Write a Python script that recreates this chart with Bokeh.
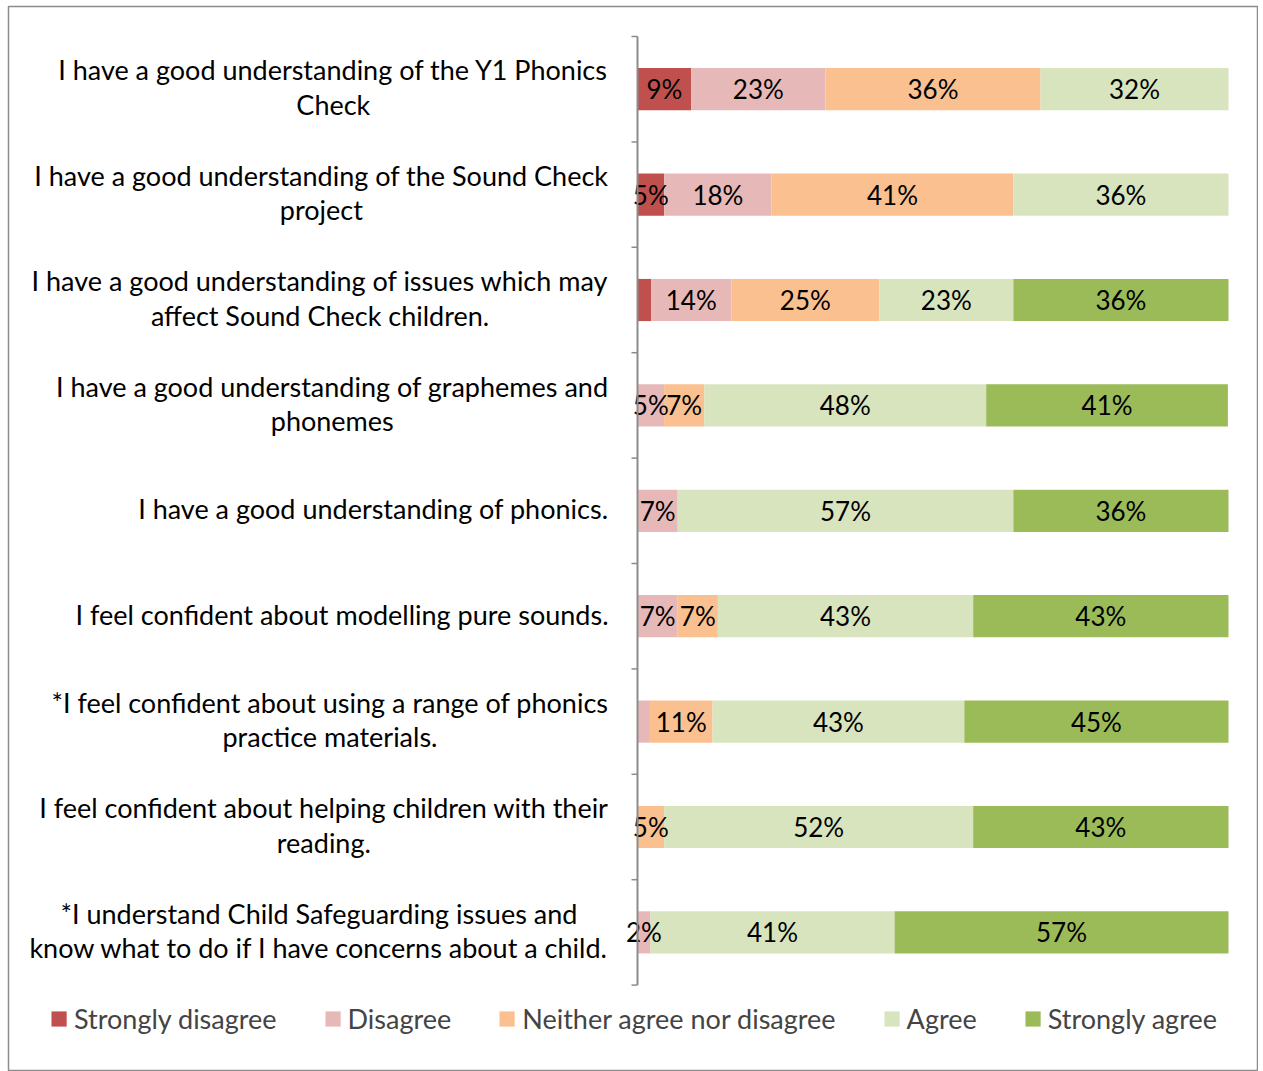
from bokeh.plotting import figure
from bokeh.models import ColumnDataSource, Range1d
from bokeh.core.properties import value
from bokeh.embed import file_html
from bokeh.resources import INLINE

# ---------------- data ----------------
statements = [
    "I have a good understanding of the Y1 Phonics\nCheck",
    "I have a good understanding of the Sound Check\nproject",
    "I have a good understanding of issues which may\naffect Sound Check children.",
    "I have a good understanding of graphemes and\nphonemes",
    "I have a good understanding of phonics.",
    "I feel confident about modelling pure sounds.",
    "*I feel confident about using a range of phonics\npractice materials.",
    "I feel confident about helping children with their\nreading.",
    "*I understand Child Safeguarding issues and\nknow what to do if I have concerns about a child.",
]
series_names = ["Strongly disagree", "Disagree", "Neither agree nor disagree", "Agree", "Strongly agree"]
strongly_disagree = [9.1, 4.5, 2.3, 0.0, 0.0, 0.0, 0.0, 0.0, 0.0]
disagree          = [22.7, 18.2, 13.6, 4.5, 6.8, 6.8, 2.1, 0.0, 2.2]
neither           = [36.4, 40.9, 25.0, 6.8, 0.0, 6.8, 10.6, 4.5, 0.0]
agree             = [31.8, 36.4, 22.7, 47.7, 56.8, 43.2, 42.6, 52.3, 41.3]
strongly_agree    = [0.0, 0.0, 36.4, 40.9, 36.4, 43.2, 44.7, 43.2, 56.5]
# labels that the original chart does not show
hidden_labels = [(2, "Strongly disagree"), (6, "Disagree")]

colors = ["#C0504D", "#E6B9B8", "#FAC090", "#D7E4BD", "#9BBB59"]
FONT = "Lato"

# ---------------- layout ----------------
LEFT, TOP = 8, 6       # page offset of the chart border
FW, FH = 1250, 1065    # frame (bordered chart area) size
zero_px = 629          # pixel of 0% from frame left
px_per_pct = 5.91
top_px = 30            # pixel of first category boundary from frame top
px_per_row = 105.4

n = len(statements)
rows = list(range(n))
series = [strongly_disagree, disagree, neither, agree, strongly_agree]

data = {"y": rows, "stmt": statements}
for name, vals in zip(series_names, series):
    data[name] = vals
source = ColumnDataSource(data)

x_start = -zero_px / px_per_pct
x_end = (FW - zero_px) / px_per_pct
y_top = -0.5 - top_px / px_per_row
y_bottom = y_top + FH / px_per_row

p = figure(width=FW + LEFT, height=FH + TOP, x_range=Range1d(x_start, x_end),
           y_range=Range1d(y_bottom, y_top),
           output_backend="svg", toolbar_location=None,
           x_axis_location=None, y_axis_location=None,
           min_border=0, min_border_left=LEFT, min_border_top=TOP)
p.grid.visible = False
p.outline_line_color = "#8C8C8C"
p.outline_line_width = 1.5

p.hbar_stack(series_names, y="y", height=0.4, color=colors, line_color=None,
             source=source, legend_label=series_names)

# segment labels
lx, ly, lt = [], [], []
for i in rows:
    cum = 0.0
    for name, vals in zip(series_names, series):
        v = vals[i]
        if v > 0 and (i, name) not in hidden_labels:
            lx.append(cum + v / 2)
            ly.append(i)
            lt.append(f"{int(v + 0.5)}%")
        cum += v
p.text(x=lx, y=ly, text=lt, text_align="center", text_baseline="middle",
       text_font=value(FONT), text_font_size="26px", text_color="#000000")

# category axis (line + ticks at category boundaries) and labels
bounds = [i - 0.5 for i in range(n + 1)]
p.segment(x0=[0], y0=[bounds[0]], x1=[0], y1=[bounds[-1]], line_color="#8C8C8C", line_width=2)
p.segment(x0=[-6 / px_per_pct] * len(bounds), y0=bounds, x1=[0] * len(bounds), y1=bounds,
          line_color="#8C8C8C", line_width=1.5)
p.text(x=[0] * n, y=rows, text=statements, x_offset=-29, y_offset=-2, anchor="center_right",
       text_align="center", text_baseline="middle", text_line_height=1.05,
       text_font=value(FONT), text_font_size="27px", text_color="#000000")

lg = p.legend[0]
lg.orientation = "horizontal"
lg.location = "bottom_center"
lg.margin = 36
lg.padding = 0
lg.spacing = 46
lg.glyph_width = 19
lg.glyph_height = 19
lg.label_standoff = 6
lg.label_height = 30
lg.label_text_font = FONT
lg.label_text_font_size = "27px"
lg.border_line_color = None
lg.background_fill_alpha = 0

open("out.html", "w").write(file_html(p, INLINE))
